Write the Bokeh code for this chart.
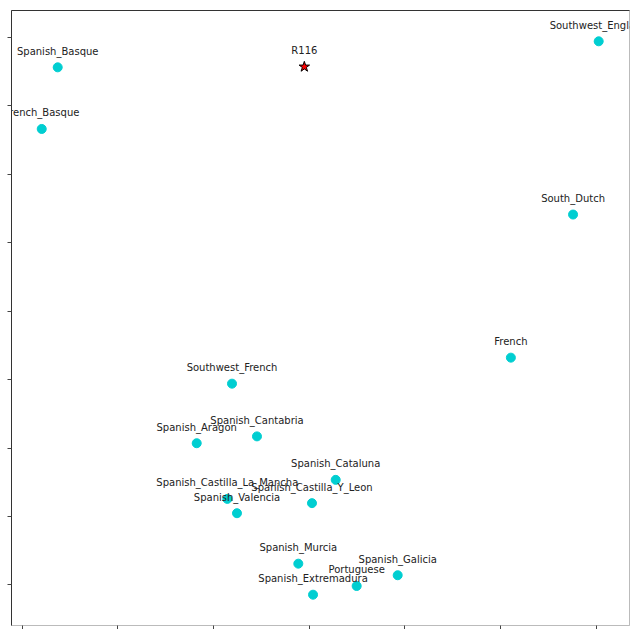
from bokeh.plotting import figure
from bokeh.models import ColumnDataSource, Range1d, FixedTicker, LinearAxis
from bokeh.core.properties import value
from bokeh.embed import file_html
from bokeh.resources import INLINE

names = ["Spanish_Basque", "French_Basque", "Southwest_England", "South_Dutch", "French",
         "Southwest_French", "Spanish_Cantabria", "Spanish_Aragon", "Spanish_Cataluna",
         "Spanish_Castilla_La_Mancha", "Spanish_Castilla_Y_Leon", "Spanish_Valencia",
         "Spanish_Murcia", "Spanish_Galicia", "Portuguese", "Spanish_Extremadura"]
xs = [0.373, 0.206, 6.028, 5.76, 5.11, 2.195, 2.456, 1.826, 3.279, 2.146, 3.031, 2.247,
      2.888, 3.927, 3.498, 3.042]
ys = [7.56, 6.66, 7.94, 5.41, 3.32, 2.94, 2.17, 2.07, 1.535, 1.257, 1.195, 1.048,
      0.311, 0.142, -0.015, -0.142]

ref_name = ["R116"]
ref_x = [2.951]
ref_y = [7.568]

x_ticks = [0, 1, 2, 3, 4, 5, 6]
y_ticks = [0, 1, 2, 3, 4, 5, 6, 7, 8]

src = ColumnDataSource(dict(x=xs, y=ys, name=names))
ref = ColumnDataSource(dict(x=ref_x, y=ref_y, name=ref_name))

p = figure(frame_width=618, frame_height=615,
           x_range=Range1d(-0.11, 6.35), y_range=Range1d(-0.592, 8.39),
           output_backend="svg", toolbar_location=None,
           min_border_left=11, min_border_right=2, min_border_top=10, min_border_bottom=0)
p.background_fill_color = "white"
p.border_fill_color = "white"
p.outline_line_color = "#bbbbbb"
p.xgrid.visible = False
p.ygrid.visible = False

for ax, col in ((p.xaxis[0], "#bbbbbb"), (p.yaxis[0], "#333333")):
    ax.major_label_text_font_size = "0px"
    ax.major_label_standoff = 0
    ax.minor_tick_line_color = None
    ax.major_tick_in = 0
    ax.major_tick_out = 4
    ax.major_tick_line_color = "#444444"
    ax.axis_line_color = col
p.xaxis.ticker = FixedTicker(ticks=x_ticks)
p.yaxis.ticker = FixedTicker(ticks=y_ticks)

top = LinearAxis(axis_line_color="#333333", major_tick_line_color=None,
                 minor_tick_line_color=None, major_label_text_font_size="0px",
                 major_label_standoff=0, major_tick_out=0, major_tick_in=0)
p.add_layout(top, "above")

p.scatter("x", "y", source=src, size=9, color="#00CED1", line_color="#00CED1")
p.scatter("x", "y", source=ref, marker="star", size=11, fill_color="red",
          line_color="black", line_width=1)

for s in (src, ref):
    p.text("x", "y", text="name", source=s, text_align="center", text_baseline="middle",
           y_offset=-16, text_font=value("DejaVu Sans"), text_font_size="10px",
           text_color="#222222")

open("out.html", "w").write(file_html(p, INLINE))
